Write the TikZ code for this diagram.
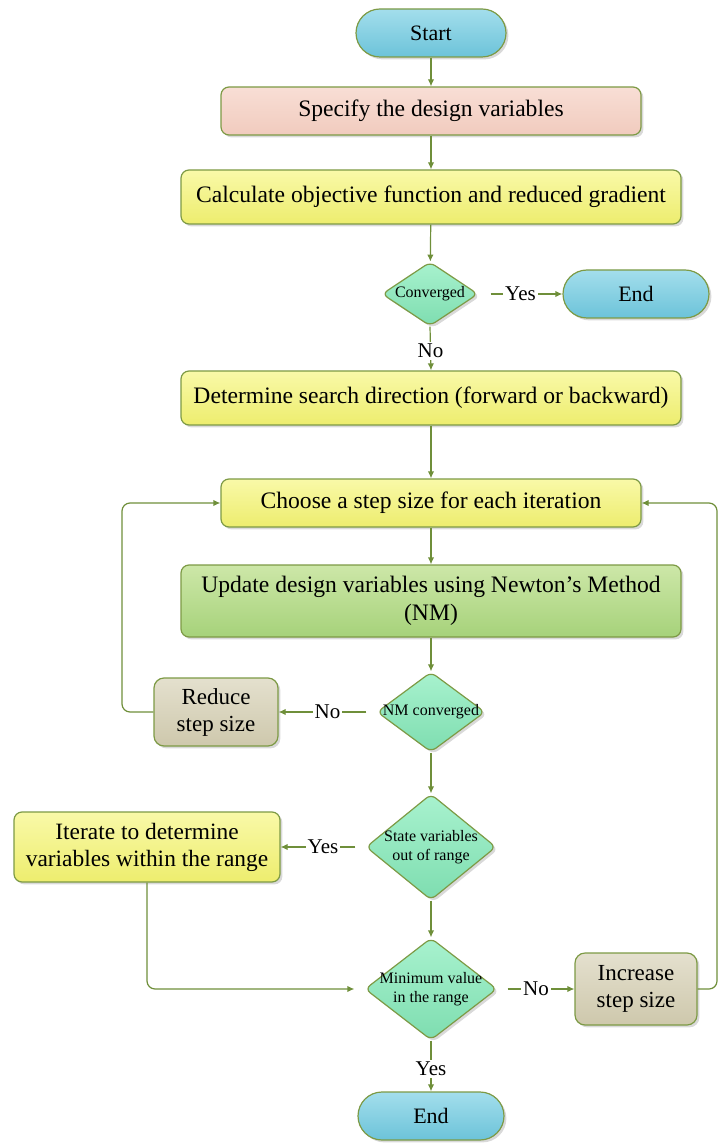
\documentclass[tikz,border=0pt]{standalone}
\usepackage{fontspec}
\setmainfont{Liberation Serif}
\usetikzlibrary{shapes.geometric,arrows.meta,shadows}
\definecolor{edge}{HTML}{7D9A45}
\definecolor{arrc}{HTML}{6F8F3A}
\definecolor{pillT}{HTML}{A3DEEC}
\definecolor{pillB}{HTML}{6CC3D9}
\definecolor{pinkT}{HTML}{F8DED5}
\definecolor{pinkB}{HTML}{F1CBBE}
\definecolor{yelT}{HTML}{F9F9A8}
\definecolor{yelB}{HTML}{EDED6E}
\definecolor{grnT}{HTML}{CDE7A8}
\definecolor{grnB}{HTML}{A6D27A}
\definecolor{mintT}{HTML}{A8F2CE}
\definecolor{mintB}{HTML}{7EDDB0}
\definecolor{grayT}{HTML}{E4E0CE}
\definecolor{grayB}{HTML}{CEC8AC}
\tikzset{
  base/.style={draw=edge, line width=0.6pt, inner sep=1pt, align=center,
    drop shadow={shadow xshift=1.2pt, shadow yshift=-1.2pt, opacity=0.3, fill=gray}},
  pill/.style={base, rounded corners=12pt, top color=pillT, bottom color=pillB, font=\fontsize{11}{13}\selectfont},
  pinkbox/.style={base, rounded corners=4pt, top color=pinkT, bottom color=pinkB, font=\fontsize{11.8}{14}\selectfont},
  yelbox/.style={base, rounded corners=4pt, top color=yelT, bottom color=yelB, font=\fontsize{11.8}{14}\selectfont},
  grnbox/.style={base, rounded corners=4pt, top color=grnT, bottom color=grnB, font=\fontsize{11.8}{14}\selectfont},
  graybox/.style={base, rounded corners=5pt, top color=grayT, bottom color=grayB, font=\fontsize{11.5}{13.5}\selectfont},
  decision/.style={base, diamond, inner sep=0pt, rounded corners=3pt, top color=mintT, bottom color=mintB, font=\fontsize{8}{9.5}\selectfont},
  arr/.style={draw=arrc, line width=0.6pt, -{Latex[length=3.5pt,width=3.2pt]}},
  lbl/.style={fill=white, inner sep=1pt, font=\fontsize{10.5}{12}\selectfont}
}
\begin{document}
\begin{tikzpicture}[x=0.5pt,y=-0.5pt]
\useasboundingbox (0,0) rectangle (720,1143);
\node[pill, minimum width=75pt, minimum height=24pt] (start) at (431,33) {Start};
\node[pinkbox, minimum width=210pt, minimum height=24pt] (spec) at (431,111) {Specify the design variables};
\node[yelbox, minimum width=250pt, minimum height=27pt] (calc) at (431,197) {Calculate objective function and reduced gradient};
\node[decision, aspect=1.5, minimum width=48pt, minimum height=32pt] (conv) at (430,294) {Converged};
\node[pill, minimum width=73pt, minimum height=24pt] (end1) at (636,294) {End};
\node[yelbox, minimum width=250pt, minimum height=27pt] (det) at (431,398) {Determine search direction (forward or backward)};
\node[yelbox, minimum width=210pt, minimum height=24pt] (choose) at (431,503) {Choose a step size for each iteration};
\node[grnbox, minimum width=250pt, minimum height=36pt] (upd) at (431,601) {Update design variables using Newton’s Method\\(NM)};
\node[decision, aspect=1.35, inner sep=-1.5pt, minimum width=54pt, minimum height=40pt] (nm) at (431,712) {NM converged};
\node[graybox, minimum width=62pt, minimum height=34pt] (red) at (216,712) {Reduce\\step size};
\node[decision, aspect=1.23, inner sep=-3pt, minimum width=65pt, minimum height=53pt] (state) at (431,847) {State variables\\out of range};
\node[yelbox, font=\fontsize{11.7}{13.5}\selectfont, minimum width=133pt, minimum height=35pt] (iter) at (147,847) {Iterate to determine\\variables within the range};
\node[decision, aspect=1.3, inner sep=-3pt, minimum width=66pt, minimum height=51pt] (minv) at (431,989) {Minimum value\\in the range};
\node[graybox, minimum width=61pt, minimum height=36pt] (inc) at (636,989) {Increase\\step size};
\node[pill, minimum width=73pt, minimum height=24pt] (end2) at (431,1116) {End};
\coordinate (lp) at (122,600);
\coordinate (rp) at (717,700);

\draw[arr] (start) -- (spec);
\draw[arr] (spec) -- (calc);
\draw[arr] (calc) -- (conv);
\draw[arr, shorten <=6pt] (conv.east) -- node[lbl] {Yes} (end1.west);
\draw[arr] (conv.south) -- node[lbl, pos=0.55] {No} (det.north);
\draw[arr] (det) -- (choose);
\draw[arr] (choose) -- (upd);
\draw[arr] (upd) -- (nm);
\draw[arr, shorten <=5pt] (nm.west) -- node[lbl] {No} (red.east);
\draw[arr, rounded corners=4pt] (red.west) -| (lp) |- (choose.west);
\draw[arr] (nm) -- (state);
\draw[arr, shorten <=5pt] (state.west) -- node[lbl] {Yes} (iter.east);
\draw[arr] (state) -- (minv);
\draw[arr, rounded corners=4pt, shorten >=5pt] (iter.south) |- (minv.west);
\draw[arr, shorten <=5pt] (minv.east) -- node[lbl] {No} (inc.west);
\draw[arr, rounded corners=4pt] (inc.east) -| (rp) |- (choose.east);
\draw[arr] (minv.south) -- node[lbl, pos=0.55] {Yes} (end2.north);
\end{tikzpicture}
\end{document}
